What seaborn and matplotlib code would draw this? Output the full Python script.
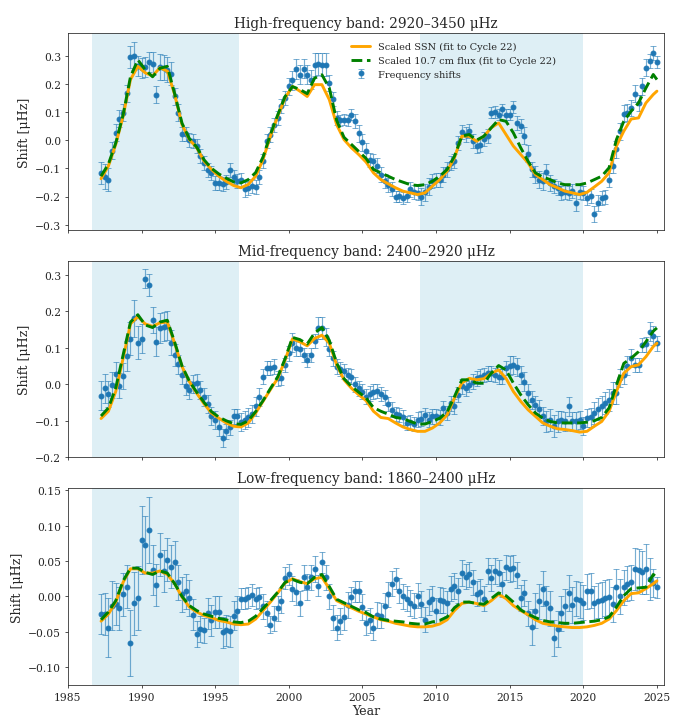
import numpy as np
import pandas as pd
import matplotlib
matplotlib.use("Agg")
import matplotlib.pyplot as plt
import seaborn as sns

# quarterly observation epochs and half-year epochs of the proxy curves
years = np.arange(1987.25, 2025.01, 0.25)
line_years = np.append(np.arange(1987.25, 2024.8, 0.5), 2025.0)

# --- High-frequency band ---
shift_high = [
    -0.116, -0.130, -0.140, -0.037, 0.026, 0.076, 0.097, 0.166, 0.295, 0.298,
    0.262, 0.257, 0.259, 0.277, 0.272, 0.162, 0.259, 0.257, 0.250, 0.236,
    0.156, 0.097, 0.022, 0.022, 0.002, -0.004, -0.021, -0.057, -0.081, -0.107,
    -0.116, -0.152, -0.152, -0.154, -0.149, -0.107, -0.130, -0.146, -0.142, -0.175,
    -0.170, -0.163, -0.166, -0.130, -0.075, -0.004, 0.020, 0.055, 0.079, 0.120,
    0.150, 0.191, 0.212, 0.253, 0.233, 0.254, 0.233, 0.215, 0.268, 0.271,
    0.268, 0.268, 0.203, 0.147, 0.079, 0.071, 0.073, 0.071, 0.091, 0.067,
    0.024, -0.007, -0.039, -0.069, -0.075, -0.090, -0.122, -0.146, -0.158, -0.173,
    -0.201, -0.199, -0.205, -0.199, -0.175, -0.185, -0.187, -0.201, -0.185, -0.166,
    -0.146, -0.140, -0.140, -0.122, -0.104, -0.081, -0.075, -0.010, 0.029, 0.020,
    0.031, -0.004, -0.021, -0.016, 0.005, 0.014, 0.097, 0.100, 0.091, 0.109,
    0.091, 0.091, 0.118, 0.061, 0.050, 0.016, -0.048, -0.104, -0.122, -0.140,
    -0.146, -0.114, -0.152, -0.163, -0.170, -0.187, -0.185, -0.187, -0.181, -0.223,
    -0.185, -0.187, -0.205, -0.199, -0.262, -0.223, -0.205, -0.202, -0.140, -0.090,
    -0.033, 0.032, 0.093, 0.097, 0.114, 0.164, 0.132, 0.191, 0.257, 0.280,
    0.310, 0.277]
err_high = [
    0.040, 0.045, 0.040, 0.030, 0.030, 0.030, 0.030, 0.030, 0.040, 0.050,
    0.035, 0.035, 0.035, 0.035, 0.040, 0.030, 0.045, 0.045, 0.045, 0.040,
    0.030, 0.030, 0.025, 0.025, 0.025, 0.025, 0.025, 0.025, 0.025, 0.025,
    0.025, 0.025, 0.025, 0.025, 0.025, 0.025, 0.025, 0.025, 0.025, 0.025,
    0.025, 0.025, 0.025, 0.025, 0.025, 0.025, 0.025, 0.025, 0.025, 0.025,
    0.025, 0.030, 0.035, 0.035, 0.035, 0.035, 0.035, 0.035, 0.040, 0.040,
    0.040, 0.040, 0.030, 0.025, 0.025, 0.020, 0.020, 0.020, 0.020, 0.025,
    0.030, 0.030, 0.030, 0.025, 0.025, 0.025, 0.025, 0.025, 0.025, 0.025,
    0.020, 0.020, 0.020, 0.020, 0.025, 0.025, 0.025, 0.030, 0.030, 0.030,
    0.025, 0.025, 0.025, 0.025, 0.025, 0.025, 0.025, 0.025, 0.025, 0.025,
    0.025, 0.025, 0.025, 0.025, 0.025, 0.025, 0.020, 0.020, 0.020, 0.020,
    0.020, 0.020, 0.020, 0.025, 0.025, 0.030, 0.030, 0.025, 0.030, 0.030,
    0.030, 0.030, 0.030, 0.025, 0.025, 0.025, 0.025, 0.025, 0.025, 0.030,
    0.025, 0.025, 0.025, 0.025, 0.030, 0.030, 0.025, 0.025, 0.025, 0.025,
    0.030, 0.030, 0.030, 0.030, 0.030, 0.030, 0.030, 0.030, 0.030, 0.025,
    0.025, 0.020]
ssn_high = [
    -0.137, -0.092, -0.015, 0.085, 0.215, 0.262, 0.239, 0.228, 0.257, 0.245,
    0.162, 0.055, 0.002, -0.027, -0.075, -0.104, -0.128, -0.146, -0.161, -0.169,
    -0.157, -0.128, -0.069, 0.014, 0.085, 0.150, 0.191, 0.174, 0.155, 0.197,
    0.197, 0.144, 0.055, 0.002, -0.027, -0.051, -0.078, -0.116, -0.140, -0.155,
    -0.169, -0.181, -0.187, -0.193, -0.187, -0.163, -0.140, -0.110, -0.063, 0.014,
    0.014, -0.004, 0.014, 0.044, 0.061, 0.020, -0.021, -0.051, -0.081, -0.122,
    -0.140, -0.158, -0.169, -0.181, -0.187, -0.193, -0.185, -0.166, -0.146, -0.116,
    -0.021, 0.032, 0.075, 0.079, 0.132, 0.162, 0.174]
flux_high = [
    -0.128, -0.085, -0.010, 0.090, 0.225, 0.285, 0.250, 0.225, 0.255, 0.262,
    0.165, 0.060, 0.005, -0.025, -0.070, -0.100, -0.120, -0.135, -0.148, -0.152,
    -0.140, -0.115, -0.060, 0.020, 0.090, 0.155, 0.190, 0.180, 0.165, 0.220,
    0.232, 0.185, 0.070, 0.010, -0.015, -0.040, -0.065, -0.104, -0.116, -0.128,
    -0.140, -0.149, -0.158, -0.161, -0.158, -0.146, -0.128, -0.104, -0.057, 0.014,
    0.020, 0.000, 0.014, 0.044, 0.073, 0.067, 0.026, -0.027, -0.075, -0.116,
    -0.131, -0.140, -0.152, -0.158, -0.158, -0.158, -0.152, -0.140, -0.128, -0.098,
    0.002, 0.067, 0.103, 0.132, 0.185, 0.233, 0.215]

# --- Mid-frequency band ---
shift_mid = [
    -0.031, -0.011, -0.027, -0.002, 0.027, -0.004, 0.023, 0.077, 0.124, 0.180,
    0.114, 0.124, 0.289, 0.272, 0.175, 0.116, 0.154, 0.157, 0.160, 0.114,
    0.080, 0.054, 0.025, -0.005, -0.015, 0.000, 0.002, -0.015, -0.036, -0.054,
    -0.088, -0.097, -0.118, -0.147, -0.129, -0.118, -0.088, -0.088, -0.104, -0.097,
    -0.091, -0.082, -0.061, -0.036, 0.021, 0.044, 0.044, 0.048, 0.016, 0.018,
    0.053, 0.084, 0.114, 0.098, 0.096, 0.080, 0.066, 0.080, 0.118, 0.153,
    0.154, 0.130, 0.096, 0.071, 0.048, 0.042, 0.035, 0.025, 0.021, 0.000,
    -0.011, -0.020, -0.034, -0.026, -0.020, -0.019, -0.027, -0.036, -0.054, -0.070,
    -0.082, -0.084, -0.091, -0.106, -0.104, -0.109, -0.097, -0.094, -0.084, -0.097,
    -0.088, -0.088, -0.091, -0.065, -0.079, -0.052, -0.061, -0.029, -0.006, -0.011,
    -0.002, 0.007, 0.016, 0.021, 0.025, 0.030, 0.030, 0.025, 0.021, 0.021,
    0.044, 0.051, 0.053, 0.048, 0.025, 0.007, -0.025, -0.043, -0.056, -0.067,
    -0.088, -0.102, -0.097, -0.115, -0.102, -0.097, -0.102, -0.061, -0.102, -0.100,
    -0.097, -0.115, -0.093, -0.091, -0.079, -0.067, -0.061, -0.052, -0.043, -0.025,
    -0.025, 0.016, 0.025, 0.051, 0.071, 0.053, 0.053, 0.107, 0.109, 0.144,
    0.133, 0.112]
err_mid = [
    0.040, 0.040, 0.035, 0.035, 0.035, 0.035, 0.035, 0.040, 0.045, 0.050,
    0.045, 0.040, 0.025, 0.030, 0.035, 0.040, 0.040, 0.040, 0.040, 0.035,
    0.030, 0.025, 0.025, 0.025, 0.025, 0.025, 0.025, 0.025, 0.025, 0.025,
    0.025, 0.025, 0.025, 0.025, 0.020, 0.020, 0.020, 0.020, 0.025, 0.025,
    0.025, 0.025, 0.025, 0.025, 0.020, 0.020, 0.020, 0.020, 0.020, 0.020,
    0.020, 0.020, 0.025, 0.020, 0.020, 0.020, 0.020, 0.020, 0.020, 0.030,
    0.030, 0.025, 0.020, 0.020, 0.020, 0.020, 0.020, 0.020, 0.020, 0.020,
    0.020, 0.020, 0.020, 0.020, 0.020, 0.020, 0.020, 0.020, 0.020, 0.020,
    0.020, 0.020, 0.020, 0.020, 0.020, 0.020, 0.020, 0.020, 0.020, 0.020,
    0.020, 0.020, 0.020, 0.020, 0.020, 0.020, 0.020, 0.020, 0.020, 0.020,
    0.020, 0.020, 0.020, 0.020, 0.020, 0.020, 0.020, 0.020, 0.020, 0.020,
    0.020, 0.025, 0.025, 0.025, 0.025, 0.025, 0.025, 0.025, 0.025, 0.025,
    0.025, 0.030, 0.030, 0.030, 0.030, 0.025, 0.025, 0.025, 0.025, 0.025,
    0.025, 0.025, 0.025, 0.025, 0.030, 0.030, 0.030, 0.030, 0.030, 0.030,
    0.030, 0.025, 0.025, 0.025, 0.025, 0.020, 0.020, 0.020, 0.020, 0.025,
    0.025, 0.020]
ssn_mid = [
    -0.094, -0.074, -0.020, 0.071, 0.165, 0.185, 0.165, 0.158, 0.168, 0.170,
    0.112, 0.048, 0.007, -0.025, -0.054, -0.079, -0.093, -0.106, -0.115, -0.117,
    -0.106, -0.079, -0.047, -0.015, 0.016, 0.066, 0.124, 0.116, 0.105, 0.125,
    0.134, 0.112, 0.053, 0.012, -0.011, -0.029, -0.045, -0.074, -0.091, -0.094,
    -0.106, -0.117, -0.124, -0.129, -0.129, -0.120, -0.106, -0.084, -0.038, 0.003,
    0.016, 0.012, 0.015, 0.030, 0.039, 0.016, -0.020, -0.047, -0.070, -0.088,
    -0.106, -0.115, -0.122, -0.124, -0.127, -0.131, -0.129, -0.115, -0.102, -0.074,
    -0.020, 0.030, 0.048, 0.053, 0.075, 0.103, 0.112]
flux_mid = [
    -0.087, -0.065, -0.010, 0.080, 0.170, 0.190, 0.162, 0.155, 0.170, 0.175,
    0.115, 0.050, 0.008, -0.022, -0.050, -0.075, -0.090, -0.100, -0.108, -0.110,
    -0.100, -0.075, -0.045, -0.012, 0.020, 0.070, 0.128, 0.122, 0.110, 0.140,
    0.155, 0.120, 0.058, 0.015, -0.006, -0.022, -0.038, -0.064, -0.074, -0.082,
    -0.091, -0.094, -0.102, -0.109, -0.109, -0.102, -0.093, -0.076, -0.034, 0.012,
    0.012, 0.003, 0.003, 0.030, 0.051, 0.039, 0.003, -0.029, -0.056, -0.079,
    -0.093, -0.102, -0.106, -0.106, -0.106, -0.106, -0.104, -0.100, -0.091, -0.065,
    -0.002, 0.057, 0.071, 0.089, 0.116, 0.145, 0.154]

# --- Low-frequency band ---
shift_low = [
    -0.025, -0.025, -0.044, -0.013, -0.011, -0.017, 0.003, 0.014, -0.066, -0.010,
    -0.002, 0.080, 0.073, 0.094, 0.037, 0.016, 0.059, 0.036, 0.052, 0.042,
    0.048, 0.020, 0.003, 0.007, -0.002, -0.026, -0.053, -0.046, -0.048, -0.024,
    -0.034, -0.022, -0.022, -0.051, -0.048, -0.049, -0.027, -0.020, -0.003, -0.003,
    -0.001, 0.002, -0.003, -0.001, -0.014, -0.024, -0.040, -0.031, -0.017, -0.006,
    0.026, 0.031, 0.011, 0.006, -0.010, 0.027, 0.013, 0.027, 0.039, 0.015,
    0.048, 0.027, 0.000, -0.030, -0.044, -0.035, -0.029, -0.012, -0.001, 0.007,
    0.007, -0.015, -0.037, -0.034, -0.044, -0.026, -0.027, -0.013, 0.003, 0.018,
    0.025, 0.008, 0.000, -0.003, -0.009, -0.013, 0.001, -0.011, -0.033, -0.008,
    -0.003, -0.020, -0.005, -0.006, -0.010, 0.011, 0.015, 0.008, 0.033, 0.028,
    0.031, 0.020, 0.004, 0.006, -0.003, 0.036, 0.026, 0.036, 0.033, 0.017,
    0.041, 0.039, 0.040, 0.030, -0.002, 0.005, -0.024, -0.043, -0.020, -0.007,
    0.011, -0.010, -0.017, -0.059, -0.046, -0.024, -0.014, 0.005, -0.012, -0.003,
    -0.005, -0.009, 0.007, 0.008, -0.010, -0.006, -0.005, -0.002, -0.001, -0.011,
    0.014, 0.000, 0.013, 0.018, 0.020, 0.039, 0.037, 0.034, 0.039, 0.025,
    0.019, 0.013]
err_low = [
    0.028, 0.030, 0.042, 0.035, 0.030, 0.030, 0.030, 0.030, 0.047, 0.045,
    0.045, 0.048, 0.040, 0.047, 0.035, 0.030, 0.030, 0.030, 0.030, 0.030,
    0.030, 0.025, 0.025, 0.025, 0.025, 0.022, 0.018, 0.018, 0.018, 0.022,
    0.022, 0.022, 0.022, 0.022, 0.022, 0.022, 0.020, 0.020, 0.015, 0.015,
    0.015, 0.015, 0.015, 0.015, 0.018, 0.018, 0.012, 0.018, 0.018, 0.018,
    0.015, 0.015, 0.018, 0.018, 0.018, 0.018, 0.018, 0.018, 0.018, 0.015,
    0.015, 0.018, 0.018, 0.018, 0.018, 0.018, 0.018, 0.018, 0.015, 0.015,
    0.015, 0.018, 0.018, 0.018, 0.018, 0.018, 0.018, 0.018, 0.018, 0.018,
    0.015, 0.018, 0.018, 0.018, 0.018, 0.018, 0.018, 0.018, 0.018, 0.018,
    0.018, 0.018, 0.018, 0.018, 0.018, 0.018, 0.018, 0.018, 0.018, 0.018,
    0.018, 0.018, 0.018, 0.018, 0.018, 0.018, 0.018, 0.018, 0.018, 0.018,
    0.018, 0.018, 0.018, 0.018, 0.018, 0.018, 0.018, 0.025, 0.025, 0.025,
    0.025, 0.025, 0.025, 0.025, 0.025, 0.025, 0.025, 0.025, 0.025, 0.025,
    0.025, 0.025, 0.025, 0.025, 0.025, 0.025, 0.025, 0.025, 0.025, 0.025,
    0.025, 0.025, 0.025, 0.025, 0.025, 0.030, 0.030, 0.030, 0.035, 0.030,
    0.020, 0.015]
ssn_low = [
    -0.035, -0.025, -0.008, 0.020, 0.039, 0.039, 0.033, 0.033, 0.036, 0.031,
    0.018, -0.001, -0.015, -0.022, -0.027, -0.030, -0.034, -0.036, -0.039, -0.040,
    -0.039, -0.032, -0.020, -0.008, 0.005, 0.019, 0.025, 0.021, 0.018, 0.025,
    0.027, 0.011, -0.006, -0.011, -0.016, -0.021, -0.025, -0.029, -0.033, -0.035,
    -0.038, -0.040, -0.042, -0.043, -0.043, -0.042, -0.039, -0.033, -0.020, -0.010,
    -0.008, -0.010, -0.013, -0.006, 0.003, -0.003, -0.013, -0.020, -0.026, -0.033,
    -0.038, -0.040, -0.042, -0.043, -0.044, -0.044, -0.043, -0.041, -0.038, -0.032,
    -0.020, -0.006, 0.004, 0.005, 0.011, 0.018, 0.022]
flux_low = [
    -0.033, -0.022, -0.006, 0.022, 0.040, 0.040, 0.034, 0.031, 0.036, 0.033,
    0.018, 0.000, -0.013, -0.020, -0.025, -0.028, -0.031, -0.033, -0.036, -0.037,
    -0.035, -0.028, -0.017, -0.006, 0.006, 0.020, 0.024, 0.020, 0.018, 0.027,
    0.031, 0.014, -0.004, -0.009, -0.014, -0.019, -0.023, -0.029, -0.032, -0.034,
    -0.035, -0.036, -0.038, -0.039, -0.039, -0.036, -0.034, -0.029, -0.016, -0.008,
    -0.008, -0.010, -0.011, -0.003, 0.005, 0.001, -0.008, -0.019, -0.025, -0.030,
    -0.034, -0.036, -0.037, -0.038, -0.038, -0.037, -0.036, -0.035, -0.033, -0.029,
    -0.015, 0.001, 0.011, 0.012, 0.013, 0.031, 0.027]

titles = ["High-frequency band: 2920\u20133450 \u03bcHz",
          "Mid-frequency band: 2400\u20132920 \u03bcHz",
          "Low-frequency band: 1860\u20132400 \u03bcHz"]
ylims = [(-0.318, 0.38), (-0.2, 0.338), (-0.125, 0.153)]
even_cycles = [(1986.67, 1996.6), (2008.93, 2019.96)]

sns.set_style("ticks")
plt.rcParams['font.family'] = ['DejaVu Serif']

panels = [(shift_high, err_high, ssn_high, flux_high),
          (shift_mid, err_mid, ssn_mid, flux_mid),
          (shift_low, err_low, ssn_low, flux_low)]

fig, axes = plt.subplots(3, 1, figsize=(10, 10.357), dpi=70, sharex=True)
fig.subplots_adjust(left=0.097, right=0.949, top=0.953, bottom=0.054, hspace=0.157)

for i, (ax, (shift, err, ssn, flux)) in enumerate(zip(axes, panels)):
    for start, end in even_cycles:
        ax.axvspan(start, end, color="lightblue", alpha=0.4, lw=0, zorder=0)

    ax.errorbar(years, shift, yerr=err, fmt="o", color="#1f77b4", ms=5,
                ecolor=(0.12, 0.47, 0.71, 0.6), elinewidth=1.2, capsize=3,
                label="Frequency shifts", zorder=2)

    df = pd.DataFrame({"year": line_years, "ssn": ssn, "flux": flux})
    sns.lineplot(data=df, x="year", y="ssn", color="orange", lw=3, ax=ax,
                 label="Scaled SSN (fit to Cycle 22)", zorder=3)
    sns.lineplot(data=df, x="year", y="flux", color="green", lw=3,
                 linestyle="--", ax=ax,
                 label="Scaled 10.7 cm flux (fit to Cycle 22)", zorder=3)

    ax.set_title(titles[i], fontsize=14)
    ax.set_ylabel("Shift [\u03bcHz]", fontsize=13)
    ax.set_xlabel("")
    ax.set_ylim(*ylims[i])
    ax.tick_params(labelsize=11)
    if i == 0:
        ax.legend(loc="upper left", bbox_to_anchor=(0.46, 1.0), frameon=False,
                  fontsize=10)
    else:
        ax.get_legend().remove()

axes[-1].set_xlim(1985, 2025.5)
axes[-1].set_xlabel("Year", fontsize=13, labelpad=2)

plt.savefig("out.png", dpi=70)
